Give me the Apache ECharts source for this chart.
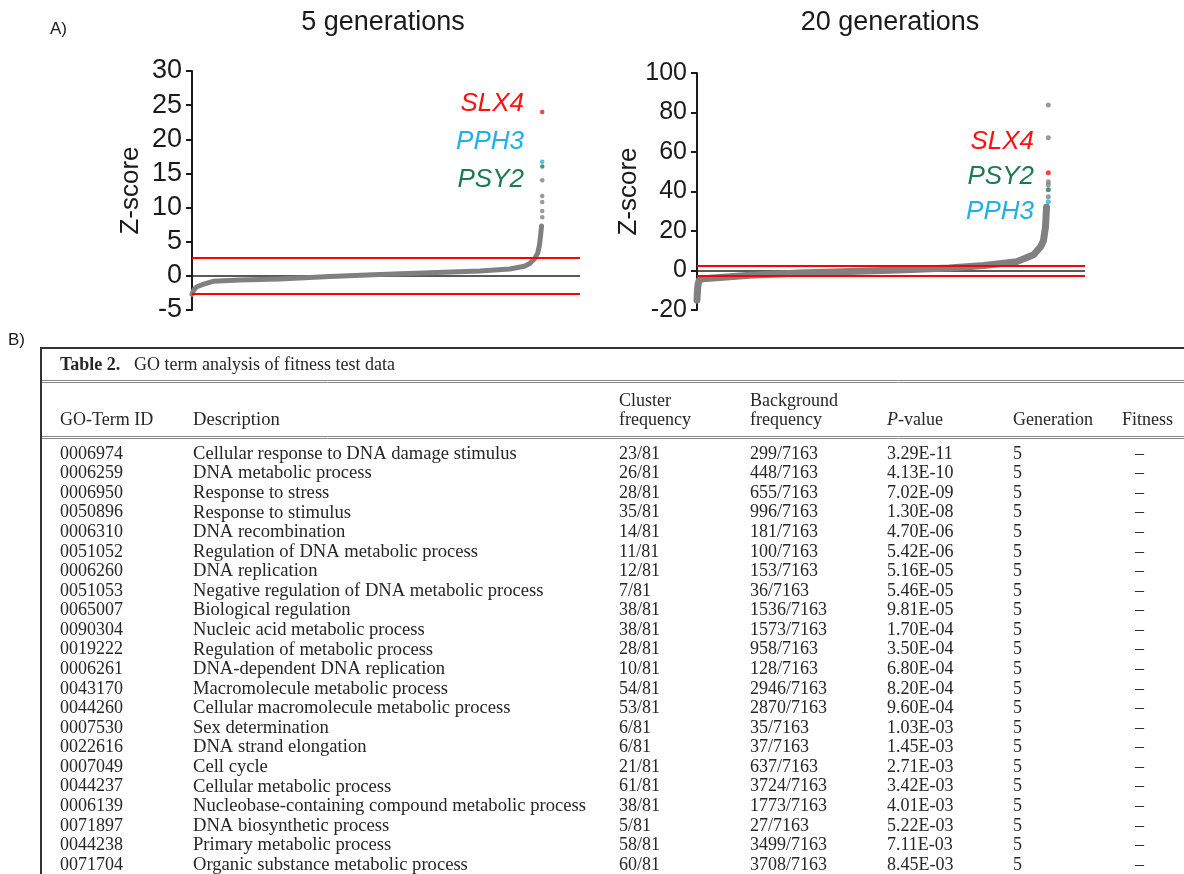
<!DOCTYPE html>
<html>
<head>
<meta charset="utf-8">
<script src="https://cdn.jsdelivr.net/npm/echarts@6/dist/echarts.min.js"></script>
<style>
html, body { margin: 0; padding: 0; background: #fff; }
#chart { width: 1184px; height: 874px; }
</style>
</head>
<body>
<div id="chart"></div>
<script>
// A) sorted z-scores (rank = % of genes)
const rank5 = [0, 0.6, 1.4, 2.9, 6, 13.7, 25, 39.4, 53.7, 68, 82.3, 90.9, 95.1, 96.6, 98, 98.9, 99.4, 99.7, 100]
const z5 = [-2.7, -2.0, -1.6, -1.3, -0.8, -0.6, -0.45, -0.1, 0.2, 0.45, 0.7, 1.0, 1.4, 1.8, 2.5, 3.3, 4.5, 5.8, 7.3]
const tailRank5 = 100.2
const tail5 = [8.6, 9.5, 10.8, 11.7, 14.0]

const rank20 = [0, 0.15, 0.3, 0.6, 1.7, 6.6, 15.1, 29.3, 43.6, 57.8, 72.1, 82.1, 91.5, 96.3, 98.3, 99.1, 99.7, 100]
const z20 = [-15, -10, -7, -5, -4.2, -3.6, -2.4, -1.3, -0.5, 0.3, 1.3, 2.5, 4.5, 8, 12, 15, 22, 32]
const tailRank20 = 100.5
const tail20 = [37.4, 43.4, 45, 67.2, 83.8]

const geneNames = ['SLX4', 'PPH3', 'PSY2']
const geneZ5 = [24.0, 16.7, 16.0]
const geneZ20 = [49.5, 34.8, 40.9]
const cutoff = 2.58

// B) table 2
const tableTitle = 'GO term analysis of fitness test data'
const goIds = ['0006974', '0006259', '0006950', '0050896', '0006310', '0051052', '0006260', '0051053', '0065007', '0090304', '0019222',
  '0006261', '0043170', '0044260', '0007530', '0022616', '0007049', '0044237', '0006139', '0071897', '0044238', '0071704']
const descriptions = ['Cellular response to DNA damage stimulus', 'DNA metabolic process', 'Response to stress', 'Response to stimulus',
  'DNA recombination', 'Regulation of DNA metabolic process', 'DNA replication', 'Negative regulation of DNA metabolic process',
  'Biological regulation', 'Nucleic acid metabolic process', 'Regulation of metabolic process', 'DNA-dependent DNA replication',
  'Macromolecule metabolic process', 'Cellular macromolecule metabolic process', 'Sex determination', 'DNA strand elongation',
  'Cell cycle', 'Cellular metabolic process', 'Nucleobase-containing compound metabolic process', 'DNA biosynthetic process',
  'Primary metabolic process', 'Organic substance metabolic process']
const clusterFreq = ['23/81', '26/81', '28/81', '35/81', '14/81', '11/81', '12/81', '7/81', '38/81', '38/81', '28/81',
  '10/81', '54/81', '53/81', '6/81', '6/81', '21/81', '61/81', '38/81', '5/81', '58/81', '60/81']
const backgroundFreq = ['299/7163', '448/7163', '655/7163', '996/7163', '181/7163', '100/7163', '153/7163', '36/7163', '1536/7163',
  '1573/7163', '958/7163', '128/7163', '2946/7163', '2870/7163', '35/7163', '37/7163', '637/7163', '3724/7163', '1773/7163',
  '27/7163', '3499/7163', '3708/7163']
const pValues = ['3.29E-11', '4.13E-10', '7.02E-09', '1.30E-08', '4.70E-06', '5.42E-06', '5.16E-05', '5.46E-05', '9.81E-05',
  '1.70E-04', '3.50E-04', '6.80E-04', '8.20E-04', '9.60E-04', '1.03E-03', '1.45E-03', '2.71E-03', '3.42E-03', '4.01E-03',
  '5.22E-03', '7.11E-03', '8.45E-03']
const generations = goIds.map(() => '5')
const fitness = goIds.map(() => '–')

const SANS = 'Arial, "Liberation Sans", sans-serif'
const SERIF = '"Times New Roman", "Liberation Serif", serif'
const INK = '#1a1a1a'
const GREY = '#808080'
const geneColors = ['#ff1010', '#20b0e6', '#1c7a50']

const chart = echarts.init(document.getElementById('chart'))

function yAxis(idx, min, max, interval, fontSize, nameGap) {
  return {
    gridIndex: idx,
    type: 'value',
    min, max, interval,
    axisLine: { show: true, onZero: false, lineStyle: { color: INK, width: 2 } },
    axisTick: { show: true, length: 6, lineStyle: { color: INK, width: 2 } },
    axisLabel: { fontSize, color: INK, fontFamily: SANS, margin: 10 },
    splitLine: { show: false },
    name: 'Z-score',
    nameLocation: 'middle',
    nameRotate: 90,
    nameGap,
    nameTextStyle: { fontSize: 26, color: INK, fontFamily: SANS }
  }
}

function panelSeries(idx, rank, z, tailRank, tail, geneZ, lineWidth, dotSize) {
  return [{
    type: 'line',
    xAxisIndex: idx,
    yAxisIndex: idx,
    data: rank.map((r, i) => [r, z[i]]),
    showSymbol: false,
    symbol: 'none',
    z: 3,
    lineStyle: { color: GREY, width: lineWidth, cap: 'round', join: 'round' },
    markLine: {
      silent: true,
      z: 1,
      symbol: 'none',
      label: { show: false },
      lineStyle: { color: '#222', width: 1.5, type: 'solid' },
      data: [{ yAxis: 0 }]
    }
  }, {
    type: 'scatter',
    xAxisIndex: idx,
    yAxisIndex: idx,
    data: tail.map(v => [tailRank, v]),
    symbolSize: dotSize,
    itemStyle: { color: GREY },
    z: 4,
    markLine: {
      silent: true,
      z: 5,
      symbol: 'none',
      label: { show: false },
      lineStyle: { color: '#ff0000', width: 2, type: 'solid' },
      data: [{ yAxis: cutoff }, { yAxis: -cutoff }]
    }
  }, {
    type: 'scatter',
    xAxisIndex: idx,
    yAxisIndex: idx,
    data: geneZ.map((v, i) => ({ value: [tailRank, v], itemStyle: { color: geneColors[i] } })),
    symbolSize: dotSize,
    z: 6
  }]
}

function txt(x, y, text, font, extra) {
  return {
    type: 'text', x, y, silent: true,
    style: Object.assign({ text, font, fill: INK, textAlign: 'left', textVerticalAlign: 'middle' }, extra || {})
  }
}
function hline(x1, x2, y, color, w) {
  return { type: 'line', silent: true, shape: { x1, y1: y, x2, y2: y }, style: { stroke: color, lineWidth: w } }
}

const graphics = []
// panel labels and titles
graphics.push(txt(50, 29, 'A)', '17px ' + SANS))
graphics.push(txt(8, 340, 'B)', '17px ' + SANS))
graphics.push(txt(383, 23, '5 generations', '27px ' + SANS, { textAlign: 'center' }))
graphics.push(txt(890, 23, '20 generations', '27px ' + SANS, { textAlign: 'center' }))
// gene labels
const geneLabelY5 = [104, 142, 180]
const geneLabelY20 = [142, 212, 177]
geneNames.forEach((g, i) => {
  graphics.push(txt(524, geneLabelY5[i], g, 'italic 26px ' + SANS, { textAlign: 'right', fill: geneColors[i] }))
  graphics.push(txt(1034, geneLabelY20[i], g, 'italic 26px ' + SANS, { textAlign: 'right', fill: geneColors[i] }))
})

// table frame
const TF = '18px ' + SERIF
const DF = '18.6px ' + SERIF
const TC = '#262626'
graphics.push({ type: 'line', silent: true, shape: { x1: 41, y1: 348, x2: 41, y2: 874 }, style: { stroke: '#333', lineWidth: 2 } })
graphics.push(hline(40, 1184, 348, '#333', 2))
graphics.push(hline(42, 1184, 380.5, '#888', 1))
graphics.push(hline(42, 1184, 382.5, '#888', 1))
graphics.push(hline(42, 1184, 436.5, '#888', 1))
graphics.push(hline(42, 1184, 438.5, '#888', 1))
graphics.push(txt(60, 365, 'Table 2.', 'bold ' + TF, { fill: TC }))
graphics.push(txt(134, 365, tableTitle, TF, { fill: TC }))

const colX = [60, 193, 619, 750, 887, 1013, 1122]
const headY1 = 401, headY2 = 420
graphics.push(txt(colX[0], headY2, 'GO-Term ID', TF, { fill: TC }))
graphics.push(txt(colX[1], headY2, 'Description', DF, { fill: TC }))
graphics.push(txt(colX[2], headY1, 'Cluster', TF, { fill: TC }))
graphics.push(txt(colX[2], headY2, 'frequency', TF, { fill: TC }))
graphics.push(txt(colX[3], headY1, 'Background', TF, { fill: TC }))
graphics.push(txt(colX[3], headY2, 'frequency', TF, { fill: TC }))
graphics.push(txt(colX[4], headY2, 'P', 'italic ' + TF, { fill: TC }))
graphics.push(txt(colX[4] + 11, headY2, '-value', TF, { fill: TC }))
graphics.push(txt(colX[5], headY2, 'Generation', TF, { fill: TC }))
graphics.push(txt(colX[6], headY2, 'Fitness', TF, { fill: TC }))

const rowTop = 454, rowStep = 19.57
const columns = [goIds, descriptions, clusterFreq, backgroundFreq, pValues, generations]
goIds.forEach((_, r) => {
  const y = rowTop + r * rowStep
  columns.forEach((col, c) => graphics.push(txt(colX[c], y, col[r], c === 1 ? DF : TF, { fill: TC })))
  graphics.push(txt(1135, y, fitness[r], TF, { fill: TC }))
})

const option = {
  animation: false,
  backgroundColor: '#fff',
  grid: [
    { left: 192, top: 71, width: 388, height: 239, outerBoundsMode: 'none' },
    { left: 697, top: 73, width: 388, height: 237, outerBoundsMode: 'none' }
  ],
  xAxis: [
    { gridIndex: 0, type: 'value', min: 0, max: 111, show: false },
    { gridIndex: 1, type: 'value', min: 0, max: 111, show: false }
  ],
  yAxis: [
    yAxis(0, -5, 30, 5, 27, 48),
    yAxis(1, -20, 100, 20, 25, 50)
  ],
  series: [
    ...panelSeries(0, rank5, z5, tailRank5, tail5, geneZ5, 5, 4.5),
    ...panelSeries(1, rank20, z20, tailRank20, tail20, geneZ20, 7, 5)
  ],
  graphic: graphics
}

chart.setOption(option)
</script>
</body>
</html>
